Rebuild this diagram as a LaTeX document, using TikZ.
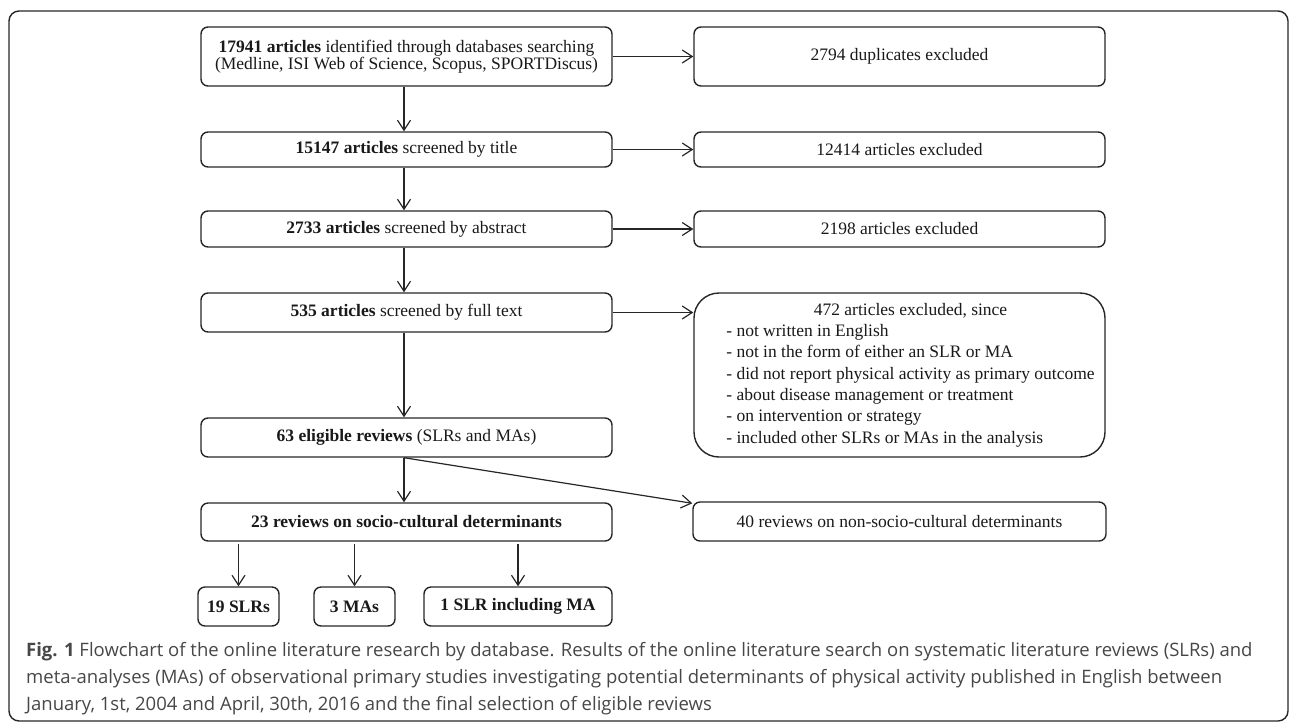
\documentclass[tikz,border=0pt]{standalone}
\usepackage{fontspec}
\setmainfont{Liberation Serif}
\newfontfamily\capfont{Open Sans}
\usetikzlibrary{arrows.meta}
\begin{document}
\begin{tikzpicture}[x=1pt,y=-1pt,
  box/.style={draw=black!85, line width=1.4pt, rounded corners=7pt, inner sep=0pt, align=center,
    font=\fontsize{17.5}{17.5}\selectfont, text=black!90},
  arr/.style={draw=black!85, line width=1.2pt, -{Straight Barb[length=10pt,width=13pt,line width=1.2pt]}},
  captext/.style={anchor=west, inner sep=0pt, font=\capfont\fontsize{18.5}{22}\selectfont, text=black!72},
]
\useasboundingbox (0,0) rectangle (1290,724);
\draw[draw=black!85, line width=1.4pt, rounded corners=10pt] (9,11) rectangle (1288,721);

% left column
\node[box, minimum width=411pt, minimum height=59pt] (b1) at (406.5,56.5)
  {\textbf{17941 articles} identified through databases searching\\(Medline, ISI Web of Science, Scopus, SPORTDiscus)};
\node[box, minimum width=411pt, minimum height=35pt] (b2) at (406.5,149.5)
  {\textbf{15147 articles} screened by title};
\node[box, minimum width=411pt, minimum height=36pt] (b3) at (406.5,229)
  {\textbf{2733 articles} screened by abstract};
\node[box, minimum width=411pt, minimum height=39pt] (b4) at (406.5,312.5)
  {\textbf{535 articles} screened by full text};
\node[box, minimum width=411pt, minimum height=39pt] (b5) at (406.5,437.5)
  {\textbf{63 eligible reviews} (SLRs and MAs)};
\node[box, minimum width=411pt, minimum height=38pt] (b6) at (406.5,522)
  {\textbf{23 reviews on socio-cultural determinants}};

% bottom row
\node[box, minimum width=81pt, minimum height=39pt] (c1) at (238.5,606.5) {\textbf{19 SLRs}};
\node[box, minimum width=81pt, minimum height=39pt] (c2) at (354.5,606.5) {\textbf{3 MAs}};
\node[box, minimum width=188pt, minimum height=39pt] (c3) at (518,606.5) {\textbf{1 SLR including MA}};

% right column
\node[box, minimum width=411pt, minimum height=59pt] (e1) at (899.5,56.5) {2794 duplicates excluded};
\node[box, minimum width=411pt, minimum height=35pt] (e2) at (899.5,149.5) {12414 articles excluded};
\node[box, minimum width=411pt, minimum height=36pt] (e3) at (899.5,229) {2198 articles excluded};
\node[box, minimum width=411pt, minimum height=164pt, rounded corners=25pt,
      font=\fontsize{17.5}{21.3}\selectfont] (e4) at (899.5,375)
  {\begin{tabular}{@{\hspace{22pt}}l@{}}
   \multicolumn{1}{@{\hspace{22pt}}c@{}}{472 articles excluded, since}\\
   - not written in English\\
   - not in the form of either an SLR or MA\\
   - did not report physical activity as primary outcome\\
   - about disease management or treatment\\
   - on intervention or strategy\\
   - included other SLRs or MAs in the analysis
   \end{tabular}};
\node[box, minimum width=413pt, minimum height=39pt] (e6) at (899.5,521.5) {40 reviews on non-socio-cultural determinants};

% vertical arrows
\draw[arr] ([xshift=-2.5pt]b1.south) -- ([xshift=-2.5pt]b2.north);
\draw[arr] ([xshift=-2.5pt]b2.south) -- ([xshift=-2.5pt]b3.north);
\draw[arr] ([xshift=-2.5pt]b3.south) -- ([xshift=-2.5pt]b4.north);
\draw[arr] ([xshift=-2.5pt]b4.south) -- ([xshift=-2.5pt]b5.north);
\draw[arr] ([xshift=-2.5pt]b5.south) -- ([xshift=-2.5pt]b6.north);
\draw[arr] ([xshift=-2.5pt]b5.south) -- ([yshift=-2pt]e6.north west);
\draw[arr] ([yshift=-2pt]b6.south -| c1) -- (c1.north);
\draw[arr] ([yshift=-2pt]b6.south -| c2) -- (c2.north);
\draw[arr] ([yshift=-2pt]b6.south -| c3) -- (c3.north);

% horizontal arrows
\draw[arr] (b1.east) -- (e1.west);
\draw[arr] (b2.east) -- (e2.west);
\draw[arr] (b3.east) -- (e3.west);
\draw[arr] (b4.east) -- (b4.east -| e4.west);

% caption
\node[captext] (cap1) at (26,652) {\textbf{Fig. 1} Flowchart of the online literature research by database. Results of the online literature search on systematic literature reviews (SLRs) and};
\node[captext] (cap2) at (26,679) {meta-analyses (MAs) of observational primary studies investigating potential determinants of physical activity published in English between};
\node[captext] (cap3) at (26,706) {January, 1st, 2004 and April, 30th, 2016 and the final selection of eligible reviews};
\end{tikzpicture}
\end{document}
